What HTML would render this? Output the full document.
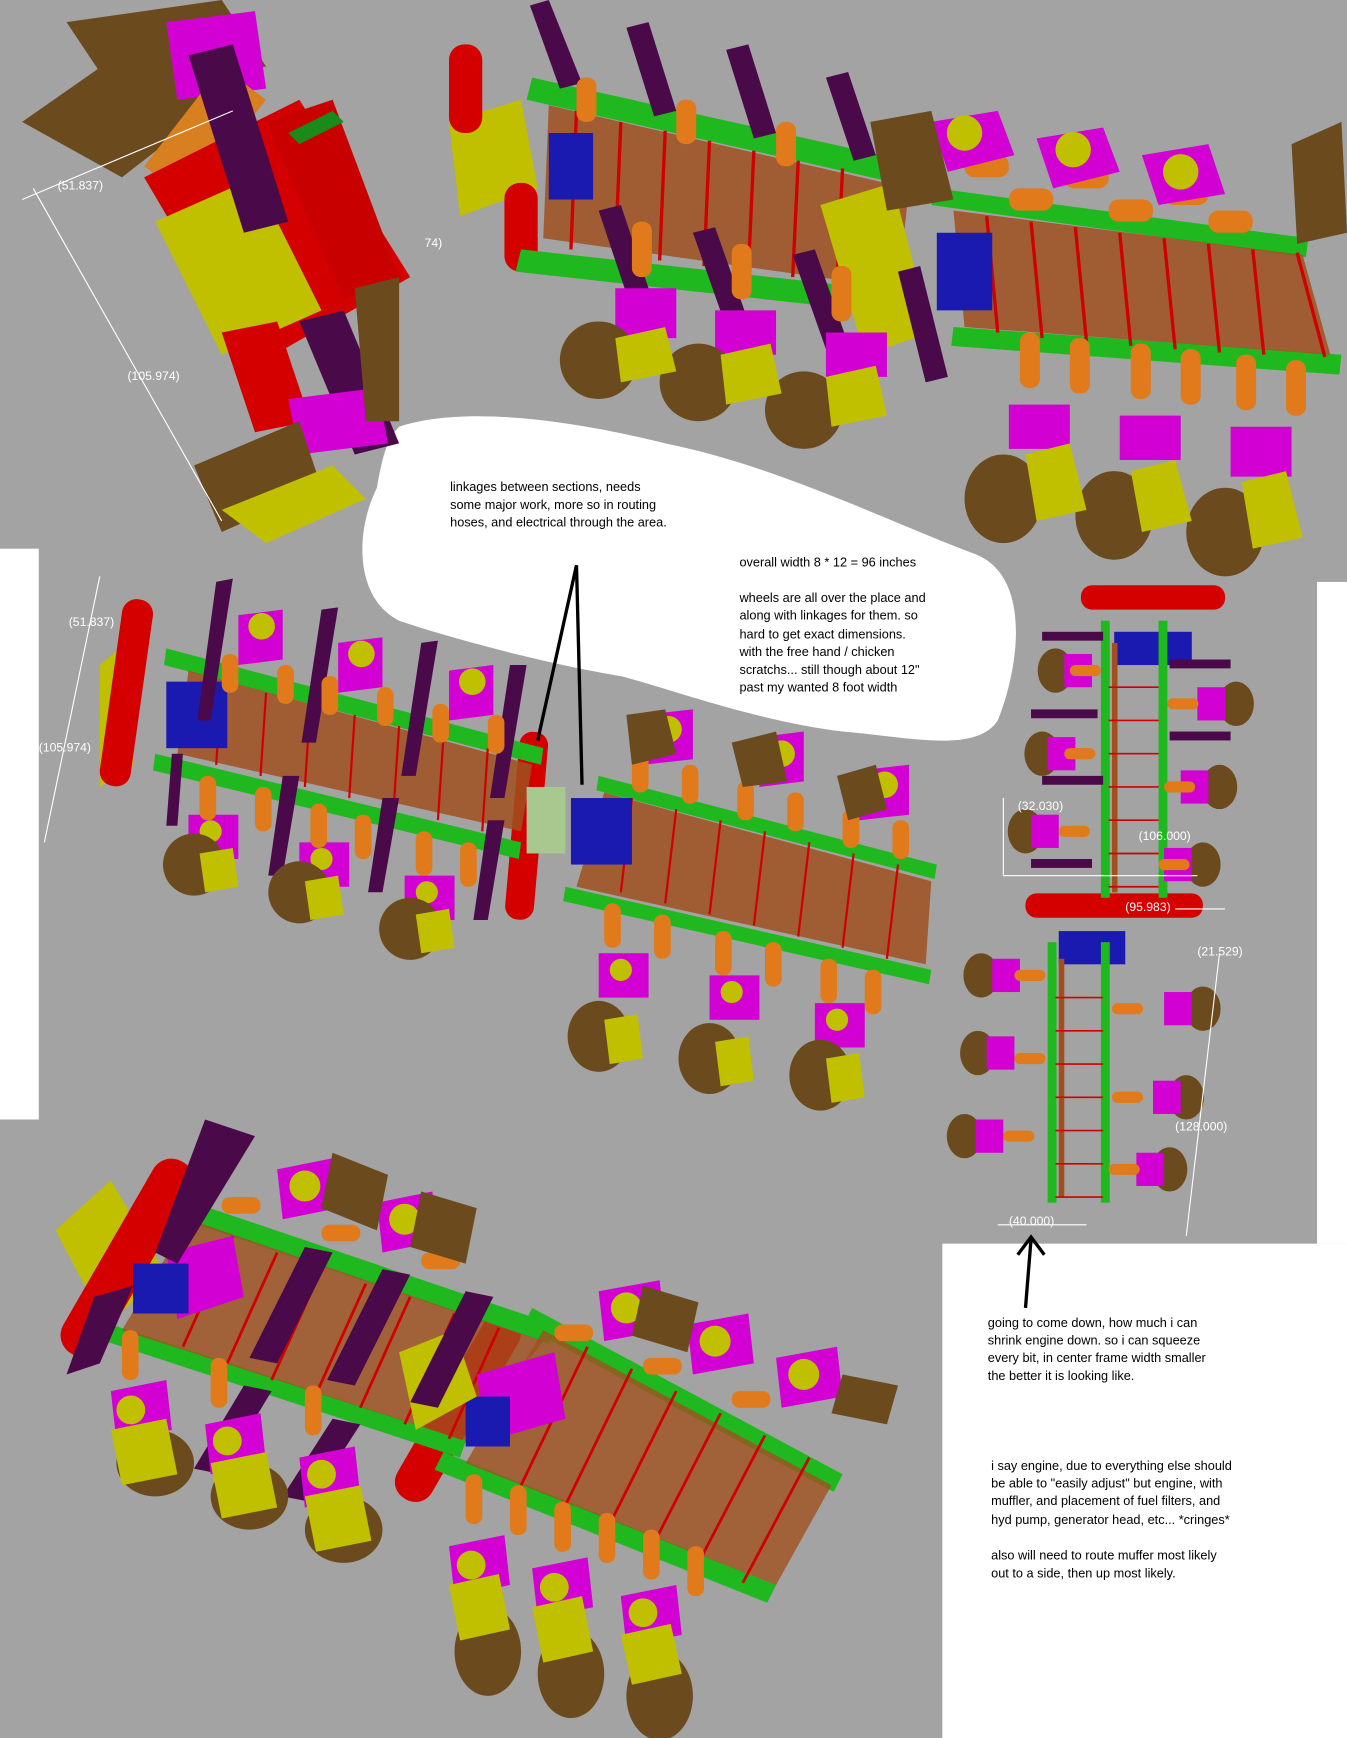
<!DOCTYPE html>
<html><head><meta charset="utf-8"><style>
html,body{margin:0;padding:0;background:#a3a3a3}
svg{display:block}
text{font-family:"Liberation Sans",sans-serif}
</style></head><body>
<svg width="1347" height="1738" viewBox="0 0 1215 1568" preserveAspectRatio="none" xmlns="http://www.w3.org/2000/svg">
<rect width="1215" height="1568" fill="#a3a3a3"/>
<!-- white regions -->
<rect x="0" y="495" width="35" height="515" fill="#fff"/>
<rect x="850" y="1122" width="365" height="446" fill="#fff"/>
<rect x="1188" y="525" width="27" height="597" fill="#fff"/>
<path d="M360,385 C420,365 520,380 600,400 C700,420 800,470 880,500 C930,520 920,600 900,650 C880,680 820,665 760,660 C680,650 600,620 560,610 C500,600 420,580 360,560 C320,540 320,480 340,440 C345,410 350,395 360,385 Z" fill="#fff"/>

<!-- TOP LEFT vehicle (rotated) -->
<g>
<polygon points="20,110 120,40 200,90 110,160" fill="#6b4a1e"/>
<polygon points="60,20 200,0 240,60 100,80" fill="#6b4a1e"/>
<polygon points="150,20 230,10 240,80 160,90" fill="#d200d2"/>
<polygon points="200,60 240,90 170,180 130,150" fill="#d88020"/>
<polygon points="130,160 270,90 370,250 230,330" fill="#d40000"/>
<polygon points="140,200 230,160 290,280 200,320" fill="#c0c000"/>
<polygon points="240,110 300,90 360,250 310,270" fill="#c80000"/>
<polygon points="170,50 210,40 260,200 220,210" fill="#4a0a4a"/>
<polygon points="260,120 300,100 310,110 270,130" fill="#1a8a1a"/>
<polygon points="200,300 250,290 280,380 230,390" fill="#d40000"/>
<polygon points="270,290 310,280 360,400 320,410" fill="#4a0a4a"/>
<polygon points="260,360 340,350 350,400 270,410" fill="#d200d2"/>
<polygon points="175,420 270,380 290,440 200,480" fill="#6b4a1e"/>
<polygon points="200,460 300,420 330,450 240,490" fill="#c0c000"/>
<polygon points="320,260 360,250 360,380 330,380" fill="#6b4a1e"/>
<line x1="30" y1="170" x2="200" y2="470" stroke="#fff" stroke-width="1"/>
<line x1="20" y1="180" x2="210" y2="100" stroke="#fff" stroke-width="1"/>
<text x="52" y="171" font-size="11" fill="#fff">(51.837)</text>
<text x="115" y="343" font-size="11" fill="#fff">(105.974)</text>
<text x="383" y="223" font-size="11" fill="#fff">74)</text>
</g>

<!-- TOP RIGHT vehicle -->
<g>
<polygon points="405,110 470,90 485,170 415,195" fill="#c0c000"/>
<rect x="405" y="40" width="30" height="80" rx="14" fill="#d40000"/>
<rect x="455" y="165" width="30" height="80" rx="14" fill="#d40000"/>
<polygon points="480,70 840,150 830,170 475,90" fill="#1fb81f"/>
<polygon points="470,225 830,265 825,285 465,245" fill="#1fb81f"/>
<polygon points="495,95 820,170 810,260 490,215" fill="#a0501e" opacity="0.85"/>
<polygon points="845,170 1180,215 1178,232 840,185" fill="#1fb81f"/>
<polygon points="860,295 1210,320 1208,338 858,312" fill="#1fb81f"/>
<polygon points="860,190 1175,230 1200,320 870,295" fill="#a0501e" opacity="0.85"/>
<g stroke="#d00000" stroke-width="3" fill="none">
<path d="M520,100 L515,225 M560,110 L555,230 M600,118 L595,235 M640,127 L635,240 M680,136 L675,245 M720,145 L715,250 M760,152 L755,255 M800,160 L795,262"/>
<path d="M890,195 L900,300 M930,200 L940,305 M970,205 L980,308 M1010,210 L1020,312 M1050,215 L1060,315 M1090,220 L1100,318 M1130,225 L1140,320 M1170,228 L1195,322"/>
</g>
<rect x="495" y="120" width="40" height="60" fill="#1a1ab0"/>
<rect x="845" y="210" width="50" height="70" fill="#1a1ab0"/>
<polygon points="740,185 805,165 840,300 780,320" fill="#c0c000"/>
<g fill="#4a0a4a">
<polygon points="478,5 495,0 525,75 505,80"/><polygon points="565,25 585,20 610,100 590,105"/><polygon points="655,45 675,40 700,120 680,125"/><polygon points="745,70 765,65 790,140 770,145"/>
<polygon points="540,190 560,185 590,275 570,280"/><polygon points="625,210 645,205 675,290 655,295"/><polygon points="715,230 735,225 765,310 745,315"/><polygon points="810,245 830,240 855,340 835,345"/>
</g>
<g fill="#e07a1a">
<rect x="520" y="70" width="18" height="40" rx="8"/><rect x="610" y="90" width="18" height="40" rx="8"/><rect x="700" y="110" width="18" height="40" rx="8"/>
<rect x="570" y="200" width="18" height="50" rx="8"/><rect x="660" y="220" width="18" height="50" rx="8"/><rect x="750" y="240" width="18" height="50" rx="8"/>
<rect x="870" y="140" width="40" height="20" rx="9"/><rect x="960" y="150" width="40" height="20" rx="9"/><rect x="1050" y="165" width="40" height="20" rx="9"/><rect x="910" y="170" width="40" height="20" rx="9"/><rect x="1000" y="180" width="40" height="20" rx="9"/><rect x="1090" y="190" width="40" height="20" rx="9"/>
<rect x="920" y="300" width="18" height="50" rx="8"/><rect x="965" y="305" width="18" height="50" rx="8"/><rect x="1020" y="310" width="18" height="50" rx="8"/><rect x="1065" y="315" width="18" height="50" rx="8"/><rect x="1115" y="320" width="18" height="50" rx="8"/><rect x="1160" y="325" width="18" height="50" rx="8"/>
</g>
<g fill="#d200d2">
<polygon points="840,110 900,100 915,140 855,155"/><polygon points="935,125 995,115 1010,155 950,170"/><polygon points="1030,140 1090,130 1105,175 1045,185"/>
<polygon points="555,260 610,260 610,305 555,305"/><polygon points="645,280 700,280 700,320 645,320"/><polygon points="745,300 800,300 800,340 745,340"/>
<polygon points="910,365 965,365 965,405 910,405"/><polygon points="1010,375 1065,375 1065,415 1010,415"/><polygon points="1110,385 1165,385 1165,430 1110,430"/>
</g>
<g fill="#c0c000"><circle cx="870" cy="120" r="16"/><circle cx="968" cy="135" r="16"/><circle cx="1065" cy="155" r="16"/></g>
<g fill="#6b4a1e">
<ellipse cx="540" cy="325" rx="35" ry="35"/><ellipse cx="630" cy="345" rx="35" ry="35"/><ellipse cx="725" cy="370" rx="35" ry="35"/>
<ellipse cx="905" cy="450" rx="35" ry="40"/><ellipse cx="1005" cy="465" rx="35" ry="40"/><ellipse cx="1105" cy="480" rx="35" ry="40"/>
<polygon points="785,110 840,100 860,180 800,190"/><polygon points="1165,130 1210,110 1215,210 1170,220"/>
</g>
<g fill="#c0c000">
<polygon points="555,305 600,295 610,335 560,345"/><polygon points="650,320 695,310 705,355 655,365"/><polygon points="745,340 790,330 800,375 750,385"/>
<polygon points="925,410 965,400 980,460 935,470"/><polygon points="1020,425 1060,415 1075,470 1030,480"/><polygon points="1120,435 1160,425 1175,485 1130,495"/>
</g>
</g>

<!-- MIDDLE LEFT vehicle -->
<g>
<polygon points="90,600 120,575 120,690 90,710" fill="#c0c000"/>
<rect x="100" y="540" width="28" height="170" rx="13" fill="#d40000" transform="rotate(8 114 625)"/>
<rect x="462" y="660" width="26" height="170" rx="12" fill="#d40000" transform="rotate(5 475 745)"/>
<polygon points="150,585 490,675 488,690 148,600" fill="#1fb81f"/>
<polygon points="140,680 470,760 468,775 138,695" fill="#1fb81f"/>
<polygon points="170,605 480,690 470,750 160,680" fill="#a0501e" opacity="0.85"/>
<polygon points="540,700 845,780 843,793 538,713" fill="#1fb81f"/>
<polygon points="510,800 840,875 838,888 508,813" fill="#1fb81f"/>
<polygon points="545,715 840,795 835,870 520,800" fill="#a0501e" opacity="0.85"/>
<g stroke="#d00000" stroke-width="2" fill="none">
<path d="M200,615 L195,690 M240,625 L235,700 M280,635 L275,710 M320,645 L315,720 M360,655 L355,730 M400,665 L395,740 M440,675 L435,750"/>
<path d="M570,720 L560,805 M610,730 L600,815 M650,740 L640,825 M690,750 L680,835 M730,760 L720,845 M770,770 L760,855 M810,780 L800,865"/>
</g>
<rect x="150" y="615" width="55" height="60" fill="#1a1ab0"/>
<rect x="515" y="720" width="55" height="60" fill="#1a1ab0"/>
<rect x="475" y="710" width="35" height="60" fill="#a8c890"/>
<g fill="#4a0a4a">
<polygon points="195,525 210,522 190,650 178,650"/><polygon points="290,550 305,548 285,670 272,670"/><polygon points="380,580 395,578 375,700 362,700"/><polygon points="460,600 475,600 455,720 442,720"/>
<polygon points="155,680 165,680 160,745 150,745"/><polygon points="255,700 270,700 255,790 242,790"/><polygon points="345,720 360,720 345,805 332,805"/><polygon points="440,740 455,740 440,830 427,830"/>
</g>
<g fill="#d200d2">
<polygon points="215,555 255,550 255,595 215,600"/><polygon points="305,580 345,575 345,620 305,625"/><polygon points="405,605 445,600 445,645 405,650"/>
<polygon points="580,645 625,640 625,685 580,690"/><polygon points="685,665 725,660 725,705 685,710"/><polygon points="775,695 820,690 820,735 775,740"/>
<polygon points="170,735 215,735 215,775 170,775"/><polygon points="270,760 315,760 315,800 270,800"/><polygon points="365,790 410,790 410,830 365,830"/>
<polygon points="540,860 585,860 585,900 540,900"/><polygon points="640,880 685,880 685,920 640,920"/><polygon points="735,905 780,905 780,945 735,945"/>
</g>
<g fill="#c0c000"><circle cx="236" cy="565" r="12"/><circle cx="326" cy="590" r="12"/><circle cx="426" cy="615" r="12"/><circle cx="603" cy="658" r="12"/><circle cx="705" cy="680" r="12"/><circle cx="798" cy="708" r="12"/>
<circle cx="190" cy="750" r="10"/><circle cx="290" cy="775" r="10"/><circle cx="385" cy="805" r="10"/><circle cx="560" cy="875" r="10"/><circle cx="660" cy="895" r="10"/><circle cx="755" cy="920" r="10"/></g>
<g fill="#e07a1a">
<rect x="200" y="590" width="15" height="35" rx="7"/><rect x="250" y="600" width="15" height="35" rx="7"/><rect x="290" y="610" width="15" height="35" rx="7"/><rect x="340" y="620" width="15" height="35" rx="7"/><rect x="390" y="635" width="15" height="35" rx="7"/><rect x="440" y="645" width="15" height="35" rx="7"/>
<rect x="570" y="680" width="15" height="35" rx="7"/><rect x="615" y="690" width="15" height="35" rx="7"/><rect x="665" y="705" width="15" height="35" rx="7"/><rect x="710" y="715" width="15" height="35" rx="7"/><rect x="760" y="730" width="15" height="35" rx="7"/><rect x="805" y="740" width="15" height="35" rx="7"/>
<rect x="180" y="700" width="15" height="40" rx="7"/><rect x="230" y="710" width="15" height="40" rx="7"/><rect x="280" y="725" width="15" height="40" rx="7"/><rect x="320" y="735" width="15" height="40" rx="7"/><rect x="375" y="750" width="15" height="40" rx="7"/><rect x="415" y="760" width="15" height="40" rx="7"/>
<rect x="545" y="815" width="15" height="40" rx="7"/><rect x="590" y="825" width="15" height="40" rx="7"/><rect x="645" y="840" width="15" height="40" rx="7"/><rect x="690" y="850" width="15" height="40" rx="7"/><rect x="740" y="865" width="15" height="40" rx="7"/><rect x="780" y="875" width="15" height="40" rx="7"/>
</g>
<g fill="#6b4a1e">
<ellipse cx="175" cy="780" rx="28" ry="28"/><ellipse cx="270" cy="805" rx="28" ry="28"/><ellipse cx="370" cy="838" rx="28" ry="28"/>
<ellipse cx="540" cy="935" rx="28" ry="32"/><ellipse cx="640" cy="955" rx="28" ry="32"/><ellipse cx="740" cy="970" rx="28" ry="32"/>
<polygon points="565,645 600,640 610,680 570,690"/><polygon points="660,670 700,660 710,705 670,710"/><polygon points="755,700 790,690 800,730 765,740"/>
</g>
<g fill="#c0c000">
<polygon points="180,770 210,765 215,800 185,805"/><polygon points="275,795 305,790 310,825 280,830"/><polygon points="375,825 405,820 410,855 380,860"/>
<polygon points="545,920 575,915 580,955 550,960"/><polygon points="645,940 675,935 680,975 650,980"/><polygon points="745,955 775,950 780,990 750,995"/>
</g>
<line x1="90" y1="520" x2="40" y2="760" stroke="#fff" stroke-width="1"/>
<text x="62" y="565" font-size="11" fill="#fff">(51.837)</text>
<text x="35" y="678" font-size="11" fill="#fff">(105.974)</text>
</g>

<!-- RIGHT vertical vehicle -->
<g>
<rect x="975" y="528" width="130" height="22" rx="10" fill="#d40000"/>
<rect x="925" y="806" width="160" height="22" rx="10" fill="#d40000"/>
<rect x="1005" y="570" width="70" height="30" fill="#1a1ab0"/>
<rect x="955" y="840" width="60" height="30" fill="#1a1ab0"/>
<g fill="#1fb81f">
<rect x="993" y="560" width="8" height="250"/><rect x="1045" y="560" width="8" height="250"/>
<rect x="945" y="850" width="8" height="235"/><rect x="993" y="850" width="8" height="235"/>
</g>
<g fill="#a0501e"><rect x="1003" y="580" width="5" height="225"/><rect x="955" y="865" width="5" height="215"/></g>
<g stroke="#d00000" stroke-width="1.5">
<path d="M1000,620 H1045 M1000,650 H1045 M1000,680 H1045 M1000,710 H1045 M1000,740 H1045 M1000,770 H1045 M1000,800 H1045"/>
<path d="M952,900 H995 M952,930 H995 M952,960 H995 M952,990 H995 M952,1020 H995 M952,1050 H995 M952,1080 H995"/>
</g>
<g fill="#4a0a4a"><rect x="940" y="570" width="55" height="8"/><rect x="1055" y="595" width="55" height="8"/><rect x="930" y="640" width="60" height="8"/><rect x="940" y="700" width="55" height="8"/><rect x="930" y="775" width="55" height="8"/><rect x="1055" y="660" width="55" height="8"/></g>
<g fill="#6b4a1e">
<ellipse cx="952" cy="605" rx="16" ry="20"/><ellipse cx="940" cy="680" rx="16" ry="20"/><ellipse cx="925" cy="750" rx="16" ry="20"/>
<ellipse cx="1115" cy="635" rx="16" ry="20"/><ellipse cx="1100" cy="710" rx="16" ry="20"/><ellipse cx="1085" cy="780" rx="16" ry="20"/>
<ellipse cx="885" cy="880" rx="16" ry="20"/><ellipse cx="882" cy="950" rx="16" ry="20"/><ellipse cx="870" cy="1025" rx="16" ry="20"/>
<ellipse cx="1085" cy="910" rx="16" ry="20"/><ellipse cx="1070" cy="990" rx="16" ry="20"/><ellipse cx="1055" cy="1055" rx="16" ry="20"/>
</g>
<g fill="#d200d2">
<rect x="960" y="590" width="25" height="30"/><rect x="945" y="665" width="25" height="30"/><rect x="930" y="735" width="25" height="30"/>
<rect x="1080" y="620" width="25" height="30"/><rect x="1065" y="695" width="25" height="30"/><rect x="1050" y="765" width="25" height="30"/>
<rect x="895" y="865" width="25" height="30"/><rect x="890" y="935" width="25" height="30"/><rect x="880" y="1010" width="25" height="30"/>
<rect x="1050" y="895" width="25" height="30"/><rect x="1040" y="975" width="25" height="30"/><rect x="1025" y="1040" width="25" height="30"/>
</g>
<g fill="#e07a1a">
<rect x="965" y="600" width="28" height="10" rx="5"/><rect x="960" y="675" width="28" height="10" rx="5"/><rect x="955" y="745" width="28" height="10" rx="5"/>
<rect x="1053" y="630" width="28" height="10" rx="5"/><rect x="1050" y="705" width="28" height="10" rx="5"/><rect x="1045" y="775" width="28" height="10" rx="5"/>
<rect x="915" y="875" width="28" height="10" rx="5"/><rect x="915" y="950" width="28" height="10" rx="5"/><rect x="905" y="1020" width="28" height="10" rx="5"/>
<rect x="1003" y="905" width="28" height="10" rx="5"/><rect x="1003" y="985" width="28" height="10" rx="5"/><rect x="1000" y="1050" width="28" height="10" rx="5"/>
</g>
<g stroke="#fff" stroke-width="1" fill="none"><path d="M905,720 V790 M905,790 H1080 M1060,820 H1105 M1100,860 L1070,1115 M900,1105 H980"/></g>
<text x="918" y="731" font-size="11" fill="#fff">(32.030)</text>
<text x="1027" y="758" font-size="11" fill="#fff">(106.000)</text>
<text x="1015" y="822" font-size="11" fill="#fff">(95.983)</text>
<text x="1080" y="862" font-size="11" fill="#fff">(21.529)</text>
<text x="1060" y="1020" font-size="11" fill="#fff">(128.000)</text>
<text x="910" y="1105" font-size="11" fill="#fff">(40.000)</text>
</g>

<!-- BOTTOM vehicle -->
<g>
<polygon points="50,1110 100,1065 150,1150 95,1195" fill="#c0c000"/>
<rect x="95" y="1035" width="40" height="200" rx="19" fill="#d40000" transform="rotate(30 115 1135)"/>
<rect x="395" y="1175" width="36" height="190" rx="17" fill="#d40000" transform="rotate(30 413 1270)"/>
<polygon points="160,1080 500,1195 495,1212 155,1097" fill="#1fb81f"/>
<polygon points="100,1195 420,1300 415,1315 95,1210" fill="#1fb81f"/>
<polygon points="170,1100 490,1210 420,1300 110,1200" fill="#a0501e" opacity="0.8"/>
<polygon points="480,1180 760,1330 752,1346 472,1196" fill="#1fb81f"/>
<polygon points="400,1310 700,1430 692,1446 392,1326" fill="#1fb81f"/>
<polygon points="490,1200 750,1340 700,1430 420,1320" fill="#a0501e" opacity="0.8"/>
<g stroke="#d00000" stroke-width="2.5" fill="none">
<path d="M210,1115 L165,1215 M250,1130 L205,1230 M290,1145 L245,1245 M330,1158 L285,1258 M370,1170 L325,1270 M410,1185 L365,1285 M450,1198 L405,1298"/>
<path d="M530,1215 L470,1340 M570,1235 L510,1358 M610,1255 L550,1375 M650,1275 L590,1392 M690,1295 L630,1410 M730,1315 L670,1428"/>
</g>
<polygon points="150,1130 210,1115 220,1170 160,1190" fill="#d200d2"/>
<polygon points="430,1240 500,1220 510,1280 440,1300" fill="#d200d2"/>
<rect x="120" y="1140" width="50" height="45" fill="#1a1ab0"/>
<rect x="420" y="1260" width="40" height="45" fill="#1a1ab0"/>
<polygon points="360,1220 410,1200 430,1260 375,1290" fill="#c0c000"/>
<g fill="#4a0a4a">
<polygon points="185,1010 230,1025 160,1140 140,1130"/><polygon points="60,1240 90,1230 120,1160 85,1170"/>
<polygon points="275,1125 300,1130 250,1230 225,1225"/><polygon points="345,1145 370,1150 320,1250 295,1245"/><polygon points="420,1165 445,1170 395,1270 370,1265"/>
<polygon points="220,1250 245,1255 200,1330 175,1325"/><polygon points="300,1280 325,1285 280,1355 255,1350"/>
</g>
<g fill="#d200d2">
<polygon points="250,1055 300,1045 305,1090 255,1100"/><polygon points="340,1085 390,1075 395,1120 345,1130"/><polygon points="540,1165 595,1155 600,1200 545,1210"/><polygon points="620,1195 675,1185 680,1230 625,1240"/><polygon points="700,1225 755,1215 760,1260 705,1270"/>
<polygon points="100,1255 150,1245 155,1290 105,1300"/><polygon points="185,1285 235,1275 240,1320 190,1330"/><polygon points="270,1315 320,1305 325,1350 275,1360"/>
<polygon points="405,1395 455,1385 460,1430 410,1440"/><polygon points="480,1415 530,1405 535,1450 485,1460"/><polygon points="560,1440 610,1430 615,1475 565,1485"/>
</g>
<g fill="#c0c000"><circle cx="275" cy="1070" r="14"/><circle cx="365" cy="1100" r="14"/><circle cx="565" cy="1180" r="14"/><circle cx="645" cy="1210" r="14"/><circle cx="725" cy="1240" r="14"/>
<circle cx="118" cy="1272" r="13"/><circle cx="205" cy="1300" r="13"/><circle cx="290" cy="1330" r="13"/><circle cx="425" cy="1412" r="13"/><circle cx="500" cy="1432" r="13"/><circle cx="580" cy="1455" r="13"/></g>
<g fill="#e07a1a">
<rect x="200" y="1080" width="35" height="15" rx="7"/><rect x="290" y="1105" width="35" height="15" rx="7"/><rect x="380" y="1130" width="35" height="15" rx="7"/><rect x="500" y="1195" width="35" height="15" rx="7"/><rect x="580" y="1225" width="35" height="15" rx="7"/><rect x="660" y="1255" width="35" height="15" rx="7"/>
<rect x="110" y="1200" width="15" height="45" rx="7"/><rect x="190" y="1225" width="15" height="45" rx="7"/><rect x="275" y="1250" width="15" height="45" rx="7"/>
<rect x="420" y="1330" width="15" height="45" rx="7"/><rect x="500" y="1355" width="15" height="45" rx="7"/><rect x="580" y="1380" width="15" height="45" rx="7"/><rect x="460" y="1340" width="15" height="45" rx="7"/><rect x="540" y="1365" width="15" height="45" rx="7"/><rect x="620" y="1395" width="15" height="45" rx="7"/>
</g>
<g fill="#6b4a1e">
<ellipse cx="140" cy="1320" rx="35" ry="30"/><ellipse cx="225" cy="1350" rx="35" ry="30"/><ellipse cx="310" cy="1380" rx="35" ry="30"/>
<ellipse cx="440" cy="1490" rx="30" ry="40"/><ellipse cx="515" cy="1510" rx="30" ry="40"/><ellipse cx="595" cy="1530" rx="30" ry="40"/>
<polygon points="300,1040 350,1060 340,1110 290,1090"/><polygon points="380,1075 430,1090 420,1140 370,1125"/><polygon points="580,1160 630,1175 620,1220 570,1205"/><polygon points="760,1240 810,1250 800,1285 750,1275"/>
</g>
<g fill="#c0c000">
<polygon points="100,1290 150,1280 160,1330 110,1340"/><polygon points="190,1320 240,1310 250,1360 200,1370"/><polygon points="275,1350 325,1340 335,1390 285,1400"/>
<polygon points="405,1430 450,1420 460,1470 415,1480"/><polygon points="480,1450 525,1440 535,1490 490,1500"/><polygon points="560,1475 605,1465 615,1510 570,1520"/>
</g>
</g>

<!-- annotations -->
<g font-size="11.5" fill="#000">
<text x="406" y="443">linkages between sections, needs</text>
<text x="406" y="459">some major work, more so in routing</text>
<text x="406" y="475">hoses, and electrical through the area.</text>
<text x="667" y="511">overall width 8 * 12 = 96 inches</text>
<text x="667" y="543">wheels are all over the place and</text>
<text x="667" y="559">along with linkages for them. so</text>
<text x="667" y="576">hard to get exact dimensions.</text>
<text x="667" y="592">with the free hand / chicken</text>
<text x="667" y="608">scratchs...  still  though about 12"</text>
<text x="667" y="624">past my wanted 8 foot width</text>
<text x="891" y="1197">going to come down, how much i can</text>
<text x="891" y="1213">shrink engine down. so i can squeeze</text>
<text x="891" y="1229">every bit, in center frame width smaller</text>
<text x="891" y="1245">the better it is looking like.</text>
<text x="894" y="1326">i say engine, due to everything else should</text>
<text x="894" y="1342">be able to "easily adjust"  but engine, with</text>
<text x="894" y="1358">muffler, and placement of fuel filters, and</text>
<text x="894" y="1375">hyd pump, generator head, etc... *cringes*</text>
<text x="894" y="1407">also will need to route muffer most likely</text>
<text x="894" y="1423">out to a side, then up most likely.</text>
</g>
<g stroke="#000" stroke-width="3" fill="none">
<path d="M485,668 L520,510 L525,708"/>
<path d="M925,1180 L930,1118"/>
<path d="M918,1132 L930,1116 L942,1132"/>
</g>
</svg>
</body></html>
